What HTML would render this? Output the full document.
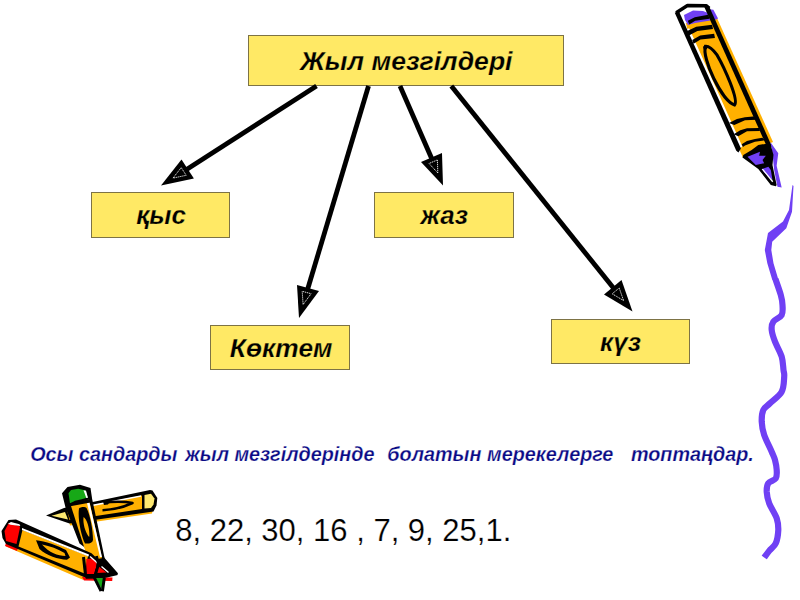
<!DOCTYPE html>
<html><head><meta charset="utf-8">
<style>
html,body{margin:0;padding:0;width:800px;height:600px;overflow:hidden;background:#fff;}
body{position:relative;font-family:"Liberation Sans",sans-serif;}
.box{position:absolute;box-sizing:border-box;background:#FFE965;border:1px solid #7d7345;}
.t{position:absolute;white-space:nowrap;font-weight:bold;font-style:italic;color:#000;line-height:1;-webkit-text-stroke:0.25px #FFE965;}
svg{position:absolute;left:0;top:0;}
.bl span{position:absolute;top:445px;white-space:nowrap;font-weight:bold;font-style:italic;color:#0a0a85;font-size:19.8px;line-height:1;-webkit-text-stroke:0.25px #fff;}
</style></head>
<body>
<div class="box" style="left:248px;top:35px;width:316px;height:51px;"></div>
<div class="box" style="left:91px;top:192px;width:139px;height:46px;"></div>
<div class="box" style="left:374px;top:192px;width:140px;height:46px;"></div>
<div class="box" style="left:210px;top:325px;width:140px;height:45px;"></div>
<div class="box" style="left:551px;top:319px;width:139px;height:45px;"></div>

<div class="t" id="t0" style="left:300.2px;top:48px;font-size:26.6px;">Жыл мезгілдері</div>
<div class="t" id="t1" style="left:136.2px;top:201.8px;font-size:26px;">қыс</div>
<div class="t" id="t2" style="left:420.8px;top:201.8px;font-size:26px;">жаз</div>
<div class="t" id="t3" style="left:229.8px;top:334.6px;font-size:26.3px;">Көктем</div>
<div class="t" id="t4" style="left:600.1px;top:328.8px;font-size:26px;">күз</div>

<svg width="800" height="600" viewBox="0 0 800 600">
  <g stroke="#000" stroke-width="4.8" fill="none">
    <line x1="316.5" y1="86" x2="178.8" y2="174.5"/>
    <line x1="368.5" y1="86" x2="305" y2="298"/>
    <line x1="400" y1="86" x2="435.3" y2="166.8"/>
    <line x1="451.3" y1="86" x2="619.3" y2="295.3"/>
  </g>
  <g fill="#000">
    <polygon points="161,185.6 181.5,159.4 193.9,178.5"/>
    <polygon points="299,318 297,285 319,291"/>
    <polygon points="443,185.5 421,162 442,153"/>
    <polygon points="632.5,311.5 604,294.5 621.5,280"/>
  </g>
  <g fill="none" stroke="#f0f0f0" stroke-width="0.9" stroke-dasharray="1.3,0.7">
    <polygon points="173.0,178.1 181.2,167.6 186.2,175.3"/>
    <polygon points="303.1,304.5 302.2,291.3 311.1,293.7"/>
    <polygon points="437.8,172.9 429.0,163.5 437.4,159.9"/>
    <polygon points="623.6,300.6 612.2,293.8 619.2,288.0"/>
  </g>
</svg>

<div class="bl" id="blue">
<span style="left:30.2px">Осы</span>
<span style="left:79.1px">сандарды</span>
<span style="left:185.3px">жыл</span>
<span style="left:234.4px">мезгілдерінде</span>
<span style="left:387.3px">болатын</span>
<span style="left:487.1px">мерекелерге</span>
<span style="left:630.9px">топтаңдар.</span>
</div>
<div class="t" id="nums" style="left:175.2px;top:514.5px;font-size:31px;font-weight:normal;font-style:normal;-webkit-text-stroke:0.2px #fff;">8, 22, 30, 16 , 7, 9, 25,1.</div>


<svg width="800" height="600" viewBox="0 0 800 600" id="clip">
  <!-- wavy purple line -->
  <polygon fill="#7040F4" points="792.5,185 789,210 783,221.5 768,233 764.8,250 767.3,263.3 772.3,280 778.5,280 773.5,263.3 771.3,250 772.2,241.7 786.3,228.3 792,211.7 793.5,186"/>
  <path fill="none" stroke="#7040F4" stroke-width="6.2" stroke-linejoin="round" d="M775.4,279 C776.3,281.7 779.6,290.7 780.8,295 C782.0,299.3 782.4,301.7 782.5,305 C782.6,308.3 783.2,312.2 781.7,315 C780.2,317.8 775.0,319.2 773.3,321.7 C771.6,324.2 771.4,326.7 771.7,330 C772.0,333.3 773.3,337.2 775,341.7 C776.7,346.1 780.3,352.0 781.7,356.7 C783.1,361.4 783.1,366.7 783.5,370 C783.9,373.3 784.5,373.1 784.2,376.7 C783.9,380.3 784.1,387.3 781.7,391.7 C779.3,396.1 773.1,400.2 770,403.3 C766.9,406.4 764.7,406.9 763.3,410 C761.9,413.1 761.6,417.5 761.7,421.7 C761.9,425.9 762.5,430.0 764.2,435 C765.9,440.0 769.9,447.5 771.7,451.7 C773.5,455.9 774.2,456.9 775,460 C775.8,463.1 776.6,466.9 776.7,470 C776.8,473.1 777.2,476.1 775.8,478.3 C774.4,480.5 769.8,481.1 768.3,483.3 C766.8,485.5 766.6,488.4 766.7,491.7 C766.9,495.0 767.5,498.9 769.2,503.3 C770.9,507.7 775.2,513.8 776.7,518.3 C778.2,522.8 778.4,525.8 778.3,530 C778.1,534.2 777.3,539.8 775.8,543.3 C774.3,546.8 771.1,548.4 769.2,550.8 C767.3,553.2 765.0,556.4 764.2,557.5"/>
  <!-- top-right pencil, local frame -->
  <g transform="matrix(0.912,-0.41,0.41,0.912,675.5,12.5)">
    <polygon fill="#FFB000" points="32,22 35.6,22 35.9,158 32,158"/>
    <polygon fill="#7040F4" points="31,10 35.7,13 36.3,23 32,23"/>
    <polygon fill="#FFB000" points="2,14 32,14 32,160 2,160"/>
    <polygon fill="#fff" points="1,0 13.8,-1.6 29.5,7 30,14 25.7,9.9 16.8,5.4 6.7,5.8 5.6,10.7 4,20 6,20 6,150 3,150"/>
    <polygon fill="#7040F4" points="6.7,5.8 16.8,5.4 25.7,9.9 29,13.4 28.5,21.5 13.5,17.6 6.3,16.5 5.6,10.7"/>
    <polygon fill="#000" points="7.9,12.6 15.7,12.2 29,15.4 28.5,19.6 14.5,15.7 7.6,16.5"/>
    <polygon fill="#000" points="3.1,21.6 13.0,21.6 28.4,26.2 27.4,30.5 12.4,25.8 2.8,26.6"/>
    <polygon fill="#000" points="4.0,32 13.1,31 26.5,35.3 25.5,39.5 11.7,35 3.7,35.8"/>
    <polygon fill="#000" points="3.5,122.7 12.4,122.3 20.4,124.1 30.5,127.6 30.4,131.2 19.2,126.8 7.5,126.7"/>
    <polygon fill="#000" points="3.1,135.0 10.8,134.0 17.7,135.0 28.8,139.6 28.5,142.7 16.5,137.7 6.5,138.7"/>
    <polygon fill="#000" points="6.3,147.4 12.5,146.5 20.6,148.0 27.9,149.8 29.2,153.3 19.5,150.4 8.8,149.9 6.4,150.3"/>
    <polygon fill="#000" points="-0.8,0 3.6,0 3.9,151 0,153.5 -1.2,151"/>
    <polyline fill="none" stroke="#000" stroke-width="3.4" stroke-linejoin="round" points="0.5,0.5 13.8,-1.5 31,6.5 32.5,10"/>
    <polygon fill="#000" points="28.5,6 33.2,8 33,162 28.3,160"/>
    <path fill="none" stroke="#000" stroke-width="3.1" d="M13.5,43 C5,52 6,100 16,108.5 C22,106 22,70 20.5,56 C19,48 16,44 13.5,43 Z"/>
    <polygon fill="#000" points="11,42.5 15,42 14,46 10.5,47"/>
    <polygon fill="#7040F4" points="33.4,157 36,170.6 29.4,181.3 25.1,203.1 21.6,200.7 25.4,184.1 30.7,168.2"/>
    <polygon fill="#000" points="1.7,159.7 3.4,157.8 13.1,156.6 21.2,154.8 32.8,158 31,170 25.9,178.9 21.5,198.8 20.3,199.6 16.2,196.4 11.3,176.8"/>
    <polygon fill="#7040F4" points="6.6,161.0 20.0,161.6 17.5,165.0 23.6,167.8 18.9,170.2 19.0,173.9 10.7,172.0"/>
    <polygon fill="#7040F4" points="14.4,178.2 21.5,178.7 22.4,182.7 19.8,192.5 15.3,182.3"/>
    <polygon fill="#fff" points="14.4,178.2 15.8,178.7 20,194 18.6,194.6"/>
  </g>
</svg>

<svg width="800" height="600" viewBox="0 0 800 600" id="clip2">
  <!-- horizontal pencil (back) -->
  <polygon fill="#FFB000" points="69,521 153,509 152,513.5 70,525.5"/>
  <polygon fill="#000" points="46,515.5 64,508 150,490 152.5,490.5 157.3,498 156.5,505.5 153.5,511.5 69.5,523.5"/>
  <polygon fill="#FFB000" points="67,510 142,495.5 142,509 69.5,520"/>
  <polygon fill="#fff" points="67,509.6 141,495.3 141,496.8 67,511.1"/>
  <polygon fill="#FDE870" points="144.5,495 151,493.8 154.5,498.5 153.5,504.5 151,508 144.5,508.5"/>
  <polygon fill="#FDE870" points="51.5,515.8 65,512 68,519.5"/>
  <path fill="none" stroke="#000" stroke-width="2.6" stroke-linejoin="round" d="M104,503 C111,501.5 124,501.2 132.5,503 C125,506.5 114,509.8 102.5,510.2"/><path fill="#000" d="M103,501.5 L110,500.8 L108,504.5 L104,505 Z"/>
  <!-- vertical pencil (middle) -->
  <polygon fill="#000" points="62,493.3 67.5,487 80,484.8 90.5,488 92.2,499.2 105,560 104,563 96,556 79.5,543.5 65.5,507.5"/>
  <polygon fill="#FFB000" points="70.5,504.5 89,499.5 103,563 86,553"/>
  <polygon fill="#fff" points="87,503 89.3,502 102,557 100,557"/>
  <polygon fill="#17A817" points="68.5,493.3 71,490 78.3,488.75 85.8,490.5 87.5,497.5 81.7,499.2 75,500.8 70,503.5"/>
  <polygon fill="#fff" points="83.5,490.3 86,490.8 88,497.8 86.3,498"/>
  <polygon fill="#000" points="68,503.5 90,499 90.5,502.5 69,506.5"/>
  <path fill="#000" d="M79,508.5 C81,506.5 85,506.5 86.5,508 C90,514 93,530 93,540 C92.5,543 89,544 85,543.5 C81,535 77.5,518 79,508.5 Z M83.6,517 C87.5,520 90,530 89.2,537 C86,534 82.5,524 83.6,517 Z" fill-rule="evenodd"/>
  <!-- red pencil (front) -->
  <polygon fill="#FFB000" points="6,543 84,575.5 83.5,580 6,546.5"/>
  <polygon fill="#FF0000" points="6,543 18,548 17,551 5,546"/>
  <polygon fill="#000" points="1.5,531 8.5,520 16,519.6 91.5,553.3 96,557.5 106,567 109.5,575 91,580 84,577 6,544 2.5,538"/>
  <polygon fill="#FF0000" points="4.5,531 8.5,523.5 19.5,526 20,527.5 16.5,544 6,541"/>
  <polygon fill="#fff" points="8,523.8 11,522 19.5,524.3 20.3,526 10.5,524.8"/>
  <polygon fill="#FFB000" points="22.5,530 88,556 84.5,573.5 18.5,546.5"/>
  <polygon fill="#fff" points="22,528 89,554.5 88.5,556.5 22,530"/>
  <path fill="#000" d="M36,540.3 C45,541 58,546 66,550 L70,557.5 L67,559.8 C58,559 47,556 39.5,549 Z M42,544.5 C50,546 58,549 64.5,553 L65.5,556 C58,556 49,552.5 42,544.5 Z" fill-rule="evenodd"/>
  <!-- tip cluster -->
  <polygon fill="#FF0000" points="82,577 112.5,577.5 112.2,581 84,580.5"/>
  <polygon fill="#000" points="84,575.5 95,574 105,576 104,578.5 86,578.8"/>
  <polygon fill="#FF0000" points="86.3,559 92,558.4 98.5,564 95.5,569 94,574 86.3,574"/>
  <polygon fill="#000" points="97,559 103,558 117,573.8 104.5,577 95,577"/>
  <polygon fill="#FF0000" points="98.9,566.8 106.6,572.4 96.1,573.1"/>
  <polygon fill="#17A817" points="95,578 103.8,578 101.8,589"/>
  <polyline fill="none" stroke="#fff" stroke-width="1.4" points="90,556.5 98,563.5"/>
  <polyline fill="none" stroke="#fff" stroke-width="1.4" points="101.5,566.5 108.5,572.5"/>
  <polyline fill="none" stroke="#000" stroke-width="2.8" stroke-linejoin="round" points="96.5,556 98.5,564 94.5,578 101,591"/>
  <polyline fill="none" stroke="#000" stroke-width="3" stroke-linejoin="round" points="103,558.4 116.4,573.8 104.5,576.6 102.4,591.3"/>
  <polyline fill="none" stroke="#000" stroke-width="3" points="83.5,557 85.5,575"/>
</svg>
</body></html>
